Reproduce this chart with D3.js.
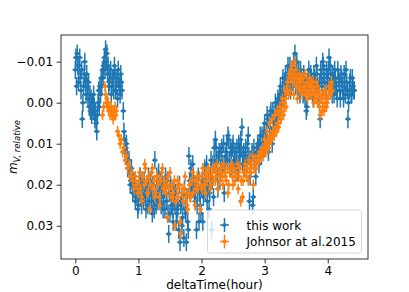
<!DOCTYPE html>
<html>
<head>
<meta charset="utf-8">
<script src="https://cdn.jsdelivr.net/npm/d3@7"></script>
<style>
body { margin: 0; background: #fff; }
text { font-family: "DejaVu Sans", sans-serif; }
</style>
</head>
<body>
<div id="chart"></div>
<script>
//Light curve samples: [deltaTime (hour), relative V magnitude]
var thisWork = [
    [0.00,-0.008],[0.01,-0.011],[0.02,-0.004],[0.03,-0.012],[0.04,-0.009],[0.05,-0.005],[0.06,-0.009],[0.07,-0.011],[0.08,-0.006],[0.09,-0.003],
    [0.10,-0.008],[0.11,0.004],[0.12,0.000],[0.13,-0.004],[0.14,-0.007],[0.15,-0.010],[0.16,-0.005],[0.17,-0.002],[0.18,-0.007],[0.19,-0.004],
    [0.20,-0.001],[0.21,-0.005],[0.22,0.001],[0.23,-0.002],[0.24,0.002],[0.25,-0.001],[0.26,0.003],[0.27,0.000],[0.28,0.002],[0.29,-0.002],
    [0.30,0.001],[0.31,0.004],[0.32,0.002],[0.33,0.005],[0.34,0.007],[0.35,0.003],[0.36,0.000],[0.37,-0.003],[0.38,0.001],[0.39,-0.004],
    [0.40,-0.002],[0.41,-0.006],[0.42,-0.004],[0.43,-0.008],[0.44,-0.006],[0.45,-0.009],[0.46,-0.011],[0.47,-0.008],[0.48,-0.013],[0.49,-0.010],
    [0.50,-0.012],[0.51,-0.007],[0.52,-0.009],[0.53,-0.004],[0.54,-0.005],[0.55,-0.007],[0.56,-0.008],[0.57,-0.002],[0.58,-0.004],[0.59,-0.006],
    [0.60,-0.006],[0.61,-0.003],[0.62,-0.009],[0.63,-0.007],[0.64,-0.003],[0.65,-0.004],[0.66,-0.006],[0.67,-0.001],[0.68,-0.008],[0.69,-0.005],
    [0.70,-0.004],[0.71,-0.002],[0.72,-0.007],[0.73,-0.005],[0.74,-0.003],[0.76,0.002],
    [0.77,0.007],[0.78,0.009],[0.79,0.012],[0.80,0.011],[0.81,0.010],[0.82,0.013],[0.83,0.016],[0.84,0.015],[0.85,0.014],[0.86,0.017],
    [0.87,0.020],[0.88,0.019],[0.89,0.016],[0.90,0.018],[0.91,0.022],[0.92,0.021],[0.93,0.019],[0.94,0.020],[0.95,0.024],[0.96,0.023],
    [0.97,0.021],[0.98,0.022],[0.99,0.026],
    [1.00,0.025],[1.02,0.020],[1.04,0.023],[1.06,0.019],[1.08,0.024],[1.10,0.021],[1.12,0.026],[1.14,0.022],[1.16,0.018],[1.18,0.024],
    [1.20,0.021],[1.22,0.027],[1.24,0.023],[1.26,0.014],[1.28,0.025],[1.30,0.022],[1.32,0.017],[1.34,0.021],[1.36,0.025],[1.38,0.020],
    [1.40,0.023],[1.42,0.026],[1.44,0.022],[1.46,0.019],[1.48,0.032],[1.50,0.027],[1.52,0.023],[1.54,0.026],[1.56,0.021],[1.58,0.025],
    [1.60,0.029],[1.62,0.026],[1.64,0.031],[1.66,0.034],[1.68,0.024],[1.70,0.028],[1.72,0.033],[1.74,0.026],[1.76,0.034],[1.78,0.029],
    [1.80,0.013],[1.82,0.022],[1.84,0.019],[1.86,0.015],[1.88,0.020],[1.90,0.024],[1.92,0.031],[1.94,0.022],[1.96,0.029],[1.98,0.025],
    [2.00,0.021],[2.02,0.029],[2.04,0.019],[2.06,0.022],[2.08,0.015],[2.10,0.021],[2.12,0.026],[2.14,0.018],[2.16,0.031],[2.18,0.015],
    [2.20,0.011],[2.22,0.009],[2.24,0.014],[2.26,0.021],[2.28,0.012],[2.30,0.016],[2.32,0.011],[2.34,0.015],[2.36,0.022],[2.38,0.013],
    [2.40,0.010],[2.42,0.008],[2.44,0.014],[2.46,0.011],[2.48,0.016],[2.50,0.010],[2.52,0.014],[2.54,0.017],[2.56,0.011],[2.58,0.015],
    [2.60,0.012],[2.62,0.009],[2.64,0.006],[2.66,0.013],[2.68,0.016],[2.70,0.011],[2.72,0.014],[2.74,0.008],[2.76,0.024],[2.78,0.015],
    [2.80,0.012],[2.82,0.023],[2.84,0.014],[2.86,0.018],[2.88,0.013],[2.90,0.011],[2.92,0.010],[2.94,0.012],[2.96,0.008],[2.98,0.011],
    [3.00,0.005],[3.02,0.009],[3.04,0.003],[3.06,0.012],[3.08,0.006],[3.10,0.002],[3.12,0.010],[3.14,0.004],[3.16,0.006],[3.18,0.001],
    [3.20,0.003],[3.22,0.000],[3.24,-0.002],[3.26,0.001],[3.28,-0.003],[3.30,-0.001],[3.32,-0.005],[3.34,-0.003],[3.36,-0.007],[3.38,-0.005],
    [3.40,-0.009],[3.42,-0.004],[3.44,-0.006],[3.46,-0.010],[3.48,-0.012],[3.50,-0.007],[3.52,-0.004],[3.54,-0.008],[3.56,-0.002],[3.58,-0.006],
    [3.60,-0.003],[3.62,-0.007],[3.64,-0.001],[3.66,0.002],[3.68,-0.005],[3.70,-0.008],[3.72,-0.003],[3.74,-0.006],[3.76,-0.002],[3.78,-0.007],
    [3.80,-0.005],[3.82,-0.009],[3.84,-0.004],[3.86,-0.001],[3.88,0.004],[3.90,-0.006],[3.92,-0.010],[3.94,-0.007],[3.96,-0.003],[3.98,-0.008],
    [4.00,-0.005],[4.02,-0.011],[4.04,-0.009],[4.06,-0.004],[4.08,-0.007],[4.10,-0.002],[4.12,-0.006],[4.14,-0.003],[4.16,-0.008],[4.18,-0.005],
    [4.20,-0.001],[4.22,-0.006],[4.24,-0.003],[4.26,-0.007],[4.28,-0.002],[4.30,-0.005],[4.32,0.004],[4.34,-0.003],[4.36,-0.006],[4.38,-0.002],
    [4.40,-0.004],[4.42,-0.003],
    //in-between exposures
    [1.01,0.022],[1.03,0.018],[1.05,0.025],[1.07,0.021],[1.09,0.019],[1.11,0.023],[1.13,0.020],[1.15,0.025],[1.17,0.022],[1.19,0.019],
    [1.21,0.024],[1.23,0.020],[1.25,0.026],[1.27,0.022],[1.29,0.018],[1.31,0.024],[1.33,0.021],[1.35,0.019],[1.37,0.023],[1.39,0.026],
    [1.41,0.021],[1.43,0.018],[1.45,0.024],[1.47,0.027],[1.49,0.022],[1.51,0.020],[1.53,0.025],[1.55,0.029],[1.57,0.024],[1.59,0.022],
    [1.61,0.027],[1.63,0.024],[1.65,0.020],[1.67,0.025],[1.69,0.030],[1.71,0.024],[1.73,0.021],[1.75,0.027],[1.77,0.023],[1.79,0.031],
    [1.81,0.019],[1.83,0.016],[1.85,0.021],[1.87,0.018],[1.89,0.023],[1.91,0.020],[1.93,0.025],[1.95,0.018],[1.97,0.022],[1.99,0.027],
    [2.01,0.019],[2.03,0.023],[2.05,0.016],[2.07,0.020],[2.09,0.024],[2.11,0.018],[2.13,0.022],[2.15,0.014],[2.17,0.019],[2.19,0.023],
    [2.21,0.015],[2.23,0.011],[2.25,0.017],[2.27,0.013],[2.29,0.019],[2.31,0.012],[2.33,0.016],[2.35,0.010],[2.37,0.015],[2.39,0.012],
    [2.41,0.014],[2.43,0.009],[2.45,0.016],[2.47,0.012],[2.49,0.011],[2.51,0.015],[2.53,0.012],[2.55,0.014],[2.57,0.017],[2.59,0.010],
    [2.61,0.013],[2.63,0.011],[2.65,0.015],[2.67,0.012],[2.69,0.014],[2.71,0.016],[2.73,0.010],[2.75,0.013],[2.77,0.018],[2.79,0.014],
    [2.81,0.025],[2.83,0.011],[2.85,0.015],[2.87,0.012],[2.89,0.010],[2.91,0.015],[2.93,0.008],[2.95,0.013],[2.97,0.010],[2.99,0.007],
    [3.01,0.011],[3.03,0.007],[3.05,0.004],[3.07,0.010],[3.09,0.003],[3.11,0.008],[3.13,0.002],[3.15,0.005],[3.17,0.000],[3.19,0.004],
    [3.21,-0.001],[3.23,0.002],[3.25,-0.004],[3.27,-0.001],[3.29,-0.006],[3.31,-0.002],[3.33,-0.007],[3.35,-0.004],[3.37,-0.009],[3.39,-0.006],
    [3.41,-0.003],[3.43,-0.008],[3.45,-0.005],[3.47,-0.009],[3.49,-0.004],[3.51,-0.010],[3.53,-0.006],[3.55,-0.003],[3.57,-0.008],[3.59,-0.005],
    [3.61,-0.002],[3.63,-0.006],[3.65,-0.004],[3.67,0.001],[3.69,-0.006],[3.71,-0.003],[3.73,-0.007],[3.75,-0.004],[3.77,-0.001],[3.79,-0.006],
    [3.81,-0.003],[3.83,-0.007],[3.85,-0.002],[3.87,-0.005],[3.89,-0.008],[3.91,-0.004],[3.93,-0.009],[3.95,-0.005],[3.97,-0.002],[3.99,-0.006],
    [4.01,-0.008],[4.03,-0.004],[4.05,-0.007],[4.07,-0.002],[4.09,-0.005],[4.11,-0.008],[4.13,-0.004],[4.15,-0.001],[4.17,-0.006],[4.19,-0.003],
    [4.21,-0.007],[4.23,-0.004],[4.25,-0.001],[4.27,-0.005],[4.29,-0.008],[4.31,-0.003],[4.33,0.000],[4.35,-0.005],[4.37,-0.002],[4.39,-0.006],
    [4.41,-0.003]
];

var johnson2015 = [
    [0.43,0.003],[0.45,0.001],[0.47,-0.004],[0.48,-0.002],[0.49,0.000],[0.50,-0.001],[0.51,0.001],[0.52,0.000],[0.53,0.002],[0.54,0.001],
    [0.55,0.003],[0.56,0.002],[0.57,0.001],[0.58,0.003],[0.59,0.002],[0.60,0.004],[0.61,0.002],[0.62,0.003],[0.63,0.001],[0.64,0.003],[0.65,0.002],
    [0.67,0.007],[0.69,0.008],[0.71,0.010],[0.73,0.009],[0.75,0.012],[0.77,0.011],[0.79,0.014],[0.81,0.013],[0.83,0.016],[0.85,0.015],
    [0.87,0.018],[0.89,0.017],[0.91,0.019],[0.93,0.021],[0.95,0.018],[0.97,0.020],[0.99,0.022],[1.01,0.019],[1.03,0.021],[1.05,0.023],
    [1.07,0.018],[1.09,0.020],[1.11,0.016],[1.13,0.019],[1.15,0.022],[1.17,0.018],[1.19,0.020],[1.21,0.017],[1.23,0.021],[1.25,0.019],
    [1.27,0.022],[1.29,0.018],[1.31,0.020],[1.33,0.023],[1.35,0.019],[1.37,0.017],[1.39,0.021],[1.41,0.019],[1.43,0.022],[1.45,0.020],
    [1.47,0.018],[1.49,0.021],[1.51,0.023],[1.53,0.020],[1.55,0.022],[1.57,0.019],[1.59,0.024],[1.61,0.021],[1.63,0.023],[1.65,0.020],
    [1.67,0.032],[1.69,0.022],[1.71,0.024],[1.73,0.021],[1.75,0.023],[1.77,0.025],[1.79,0.022],[1.81,0.020],[1.83,0.023],[1.85,0.019],
    [1.87,0.022],[1.89,0.019],[1.91,0.021],[1.93,0.018],[1.95,0.020],[1.97,0.018],[1.99,0.020],[2.01,0.021],[2.03,0.018],[2.05,0.020],
    [2.07,0.017],[2.09,0.019],[2.11,0.016],[2.13,0.018],[2.15,0.020],[2.17,0.017],[2.19,0.019],[2.21,0.016],[2.23,0.018],[2.25,0.015],
    [2.27,0.017],[2.29,0.019],[2.31,0.016],[2.33,0.018],[2.35,0.015],[2.37,0.017],[2.39,0.019],[2.41,0.016],[2.43,0.020],[2.45,0.017],
    [2.47,0.015],[2.49,0.018],[2.51,0.016],[2.53,0.019],[2.55,0.017],[2.57,0.015],[2.59,0.018],[2.61,0.016],[2.63,0.019],[2.65,0.023],
    [2.67,0.017],[2.69,0.015],[2.71,0.018],[2.73,0.016],[2.75,0.014],[2.77,0.017],[2.79,0.015],[2.81,0.013],[2.83,0.016],[2.85,0.014],
    [2.87,0.015],[2.89,0.013],[2.91,0.014],[2.93,0.012],[2.95,0.013],[2.97,0.011],[2.99,0.012],[3.01,0.010],[3.03,0.011],[3.05,0.009],
    [3.07,0.010],[3.09,0.008],[3.11,0.009],[3.13,0.007],[3.15,0.008],[3.17,0.006],[3.19,0.007],[3.21,0.005],[3.23,0.003],[3.25,0.004],
    [3.27,0.002],[3.29,0.000],[3.31,0.001],[3.33,-0.001],[3.35,-0.003],[3.37,-0.005],[3.39,-0.007],[3.41,-0.006],[3.43,-0.009],[3.45,-0.007],
    [3.47,-0.010],[3.49,-0.008],[3.51,-0.006],[3.53,-0.004],[3.55,-0.007],[3.57,-0.005],[3.59,-0.003],[3.61,-0.006],[3.63,-0.004],[3.65,-0.002],
    [3.67,-0.005],[3.69,-0.003],[3.71,-0.006],[3.73,-0.004],[3.75,-0.002],[3.77,-0.005],[3.79,-0.003],[3.81,-0.001],[3.83,-0.004],[3.85,-0.002],
    [3.87,0.001],[3.89,-0.001],[3.91,0.002],[3.93,-0.002],[3.95,0.001],[3.97,-0.001],[3.99,0.000],[4.01,-0.002],[4.03,-0.003],[4.05,-0.004],
    [4.07,-0.003],
    //in-between exposures
    [1.02,0.017],[1.06,0.024],[1.10,0.015],[1.14,0.022],[1.18,0.026],[1.22,0.016],[1.26,0.023],[1.30,0.018],[1.34,0.025],[1.38,0.016],
    [1.42,0.021],[1.46,0.028],[1.50,0.017],[1.54,0.023],[1.58,0.030],[1.62,0.019],[1.66,0.029],[1.70,0.021],[1.74,0.018],[1.78,0.026],
    [1.82,0.023],[1.86,0.017],[1.90,0.025],[1.94,0.021],[1.98,0.026],[2.02,0.016],[2.06,0.022],[2.10,0.018],[2.14,0.021],[2.18,0.016],
    [2.22,0.019],[2.26,0.021],[2.30,0.017],[2.34,0.020],[2.38,0.018],[2.42,0.022],[2.46,0.016],[2.50,0.020],[2.54,0.018],[2.58,0.021],
    [2.62,0.024],[2.66,0.019],[2.70,0.016],[2.74,0.019],[2.78,0.017],[2.82,0.020],[2.86,0.016],[2.90,0.014],[2.94,0.012],[2.98,0.013],
    [3.00,0.009],[3.02,0.012],[3.04,0.007],[3.06,0.011],[3.08,0.005],[3.10,0.009],[3.12,0.004],[3.14,0.008],[3.16,0.003],[3.18,0.007],
    [3.20,0.002],[3.22,0.006],[3.24,0.001],[3.26,0.004],[3.28,-0.001],[3.30,0.003],[3.32,-0.003],[3.34,0.001],[3.36,-0.005],[3.38,-0.002],
    [3.40,-0.003],[3.42,-0.008],[3.44,-0.005],[3.46,-0.002],[3.48,-0.006],[3.50,-0.004],[3.52,-0.001],[3.54,-0.005],[3.56,-0.003],[3.58,-0.006],
    [3.60,-0.002],[3.62,-0.004],[3.64,-0.007],[3.66,-0.003],[3.68,-0.001],[3.70,-0.004],[3.72,-0.002],[3.74,-0.005],[3.76,-0.003],[3.78,0.000],
    [3.80,-0.002],[3.82,-0.005],[3.84,0.000],[3.86,-0.003],[3.88,0.003],[3.90,-0.002],[3.92,0.000],[3.94,0.002],[3.96,-0.003],[3.98,0.001],
    [4.00,-0.001],[4.02,-0.004],[4.04,-0.002],[4.06,-0.005]
];

//Error bar half sizes [hour, mag] for each series
var thisWorkErr = [0.045, 0.0022];
var johnsonErr = [0.04, 0.0013];

var seriesNames = ["this work", "Johnsor at al.2015"];
var xTicks = [0, 1, 2, 3, 4];
var yTicks = [-0.01, 0.00, 0.01, 0.02, 0.03];

var width = 409;
var height = 292;
var margin = { left: 61, top: 35, right: 41, bottom: 33 };
var colors = ["#1f77b4", "#ff7f0e"];

var svg = d3.select("#chart").append("svg")
    .attr("width", width)
    .attr("height", height);

var x = d3.scaleLinear()
    .domain([-0.227, 4.638])
    .range([margin.left, width - margin.right]);

//magnitudes go the other way: brighter at the top
var y = d3.scaleLinear()
    .domain([-0.0165, 0.0381])
    .range([margin.top, height - margin.bottom]);

//Draw one errorbar series
function drawSeries(data, err, color) {
    var g = svg.append("g");
    var pt = g.selectAll("g").data(data).enter().append("g");
    pt.append("line")
        .attr("x1", function(d) { return x(d[0]); })
        .attr("x2", function(d) { return x(d[0]); })
        .attr("y1", function(d) { return y(d[1] - err[1]); })
        .attr("y2", function(d) { return y(d[1] + err[1]); })
        .attr("stroke", color)
        .attr("stroke-width", 1.5);
    pt.append("line")
        .attr("x1", function(d) { return x(d[0] - err[0]); })
        .attr("x2", function(d) { return x(d[0] + err[0]); })
        .attr("y1", function(d) { return y(d[1]); })
        .attr("y2", function(d) { return y(d[1]); })
        .attr("stroke", color)
        .attr("stroke-width", 1.5);
    pt.append("circle")
        .attr("cx", function(d) { return x(d[0]); })
        .attr("cy", function(d) { return y(d[1]); })
        .attr("r", 2)
        .attr("fill", color);
}

drawSeries(thisWork, thisWorkErr, colors[0]);
drawSeries(johnson2015, johnsonErr, colors[1]);

//Axes
var xAxis = svg.append("g")
    .attr("transform", "translate(0," + (height - margin.bottom) + ")")
    .call(d3.axisBottom(x).tickValues(xTicks).tickFormat(d3.format("d")).tickSize(4.4).tickPadding(3.5).tickSizeOuter(0));
var yAxis = svg.append("g")
    .attr("transform", "translate(" + margin.left + ",0)")
    .call(d3.axisLeft(y).tickValues(yTicks).tickFormat(d3.format(".2f")).tickSize(4.4).tickPadding(3.5).tickSizeOuter(0));

[xAxis, yAxis].forEach(function(a) {
    a.select(".domain").remove();
    a.selectAll("text").attr("font-size", 12).attr("fill", "#000").attr("font-family", "DejaVu Sans");
    a.selectAll("line").attr("stroke", "#000").attr("stroke-width", 0.8);
});

//Frame around the plot
svg.append("rect")
    .attr("x", margin.left)
    .attr("y", margin.top)
    .attr("width", width - margin.left - margin.right)
    .attr("height", height - margin.top - margin.bottom)
    .attr("fill", "none")
    .attr("stroke", "#000")
    .attr("stroke-width", 0.8);

//Axis labels
svg.append("text")
    .attr("x", (margin.left + width - margin.right) / 2)
    .attr("y", 289)
    .attr("text-anchor", "middle")
    .attr("font-size", 12)
    .text("deltaTime(hour)");

var yl = svg.append("text")
    .attr("transform", "translate(17," + ((margin.top + height - margin.bottom) / 2) + ") rotate(-90)")
    .attr("text-anchor", "middle")
    .attr("font-size", 12);
yl.append("tspan").attr("font-style", "italic").text("m");
yl.append("tspan").attr("font-style", "italic").attr("font-size", 8.5).attr("dy", 2.5).text("V, relative");

//Legend
var legend = svg.append("g");
legend.append("rect")
    .attr("x", 207.5)
    .attr("y", 210)
    .attr("width", 154)
    .attr("height", 43)
    .attr("rx", 2.5)
    .attr("fill", "#fff")
    .attr("fill-opacity", 0.8)
    .attr("stroke", "#ccc")
    .attr("stroke-width", 0.8);

var item = legend.selectAll(".item").data(seriesNames).enter().append("g")
    .attr("class", "item")
    .attr("transform", function(d, i) { return "translate(0," + (225 + i * 16.5) + ")"; });
item.append("line")
    .attr("x1", 220).attr("x2", 229).attr("y1", 0).attr("y2", 0)
    .attr("stroke", function(d, i) { return colors[i]; })
    .attr("stroke-width", 1.5);
item.append("line")
    .attr("x1", 224.5).attr("x2", 224.5).attr("y1", -7).attr("y2", 7)
    .attr("stroke", function(d, i) { return colors[i]; })
    .attr("stroke-width", 1.5);
item.append("circle")
    .attr("cx", 224.5).attr("cy", 0).attr("r", 2)
    .attr("fill", function(d, i) { return colors[i]; });
item.append("text")
    .attr("x", 246.5)
    .attr("y", 4.5)
    .attr("font-size", 12)
    .text(function(d) { return d; });
</script>
</body>
</html>
